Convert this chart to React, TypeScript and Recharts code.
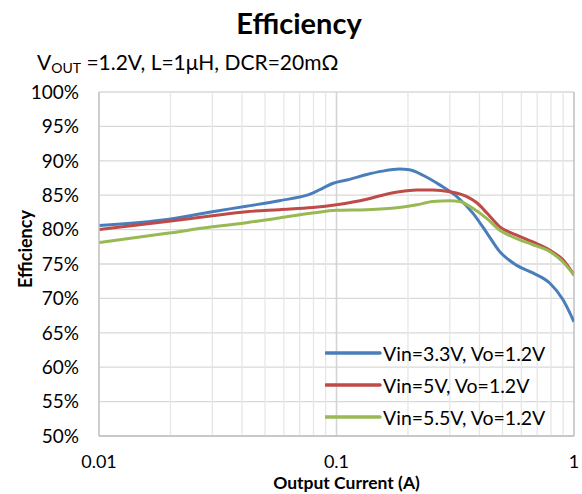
import React from "react";
import {
  LineChart,
  Line,
  XAxis,
  YAxis,
  CartesianGrid,
  ReferenceLine,
  Legend,
  Label,
} from "recharts";

// ---- data ----
const blueCurrents = [0.01, 0.0197, 0.03, 0.0417, 0.0574, 0.0793, 0.0873, 0.0962, 0.1135, 0.134, 0.156, 0.184, 0.203, 0.231, 0.272, 0.321, 0.375, 0.43, 0.487, 0.574, 0.671, 0.792, 0.899, 1.0];
const blueEff = [80.6, 81.5, 82.6, 83.4, 84.2, 85.3, 86.0, 86.7, 87.3, 88.0, 88.5, 88.8, 88.7, 87.9, 86.5, 84.8, 82.4, 79.5, 76.8, 74.8, 73.7, 72.2, 69.8, 66.6];

const redCurrents = [0.01, 0.0197, 0.03, 0.0417, 0.0574, 0.0793, 0.1, 0.134, 0.156, 0.184, 0.218, 0.254, 0.3, 0.354, 0.39, 0.43, 0.487, 0.574, 0.671, 0.792, 0.899, 1.0];
const redEff = [80.0, 81.2, 82.0, 82.6, 82.9, 83.2, 83.6, 84.4, 85.0, 85.5, 85.75, 85.75, 85.5, 84.8, 83.9, 82.4, 80.4, 79.2, 78.2, 77.0, 75.6, 73.4];

const greenCurrents = [0.01, 0.0197, 0.03, 0.0417, 0.0574, 0.0793, 0.1, 0.134, 0.184, 0.218, 0.254, 0.3, 0.33, 0.375, 0.43, 0.487, 0.574, 0.671, 0.792, 0.899, 1.0];
const greenEff = [78.1, 79.5, 80.4, 81.0, 81.7, 82.4, 82.8, 82.9, 83.2, 83.6, 84.1, 84.2, 84.1, 83.1, 81.6, 79.9, 78.7, 77.8, 76.8, 75.3, 73.4];

const seriesNames = ["Vin=3.3V, Vo=1.2V", "Vin=5V, Vo=1.2V", "Vin=5.5V, Vo=1.2V"];
const seriesColors = ["#4a7ebb", "#be4b48", "#98b954"];

const xTicks = [0.01, 0.1, 1];
const xMinorGrid = [0.02, 0.03, 0.04, 0.05, 0.06, 0.07, 0.08, 0.09, 0.2, 0.3, 0.4, 0.5, 0.6, 0.7, 0.8, 0.9];
const yTicks = [50, 55, 60, 65, 70, 75, 80, 85, 90, 95, 100];

const titleText = "Efficiency";
const xLabel = "Output Current (A)";
const yLabel = "Efficiency";

const zip = (xs: number[], ys: number[]) => xs.map((x, i) => ({ x, y: ys[i] }));
const blueData = zip(blueCurrents, blueEff);
const redData = zip(redCurrents, redEff);
const greenData = zip(greenCurrents, greenEff);

const FONT = "Lato, 'Open Sans', sans-serif";

const LegendContent = (props: any) => {
  const payload = [...(props.payload || [])].sort(
    (a: any, b: any) => seriesNames.indexOf(a.value) - seriesNames.indexOf(b.value)
  );
  return (
    <div style={{ fontFamily: FONT, fontSize: 19.5, color: "#000" }}>
      {payload.map((p: any, i: number) => (
        <div key={i} style={{ display: "flex", alignItems: "center", height: 32 }}>
          <svg width={57} height={10} style={{ display: "block" }}>
            <line x1={1} y1={5} x2={55} y2={5} stroke={p.color} strokeWidth={3.5} strokeLinecap="round" />
          </svg>
          <span style={{ marginLeft: 1, whiteSpace: "nowrap" }}>{p.value}</span>
        </div>
      ))}
    </div>
  );
};

const YLabelContent = (props: any) => {
  const vb = props.viewBox || {};
  const cy = vb.y + vb.height / 2 - 15;
  return (
    <text
      x={25}
      y={cy}
      transform={`rotate(-90, 25, ${cy})`}
      textAnchor="middle"
      dominantBaseline="central"
      fontFamily={FONT}
      fontWeight={700}
      fontSize={18}
      fill="#000"
    >
      {yLabel}
    </text>
  );
};

const XLabelContent = (props: any) => {
  const vb = props.viewBox || {};
  const cx = vb.x + vb.width / 2 + 10;
  return (
    <text
      x={cx}
      y={vb.y + 53}
      textAnchor="middle"
      fontFamily={FONT}
      fontWeight={700}
      fontSize={17.5}
      fill="#000"
    >
      {xLabel}
    </text>
  );
};

export default function App() {
  return (
    <div style={{ position: "absolute", left: 0, top: 0, width: 582, height: 494, background: "#fff" }}>
      <div
        style={{
          position: "absolute",
          left: 0,
          top: 5,
          width: 598,
          textAlign: "center",
          fontFamily: FONT,
          fontWeight: 700,
          fontSize: 29,
          lineHeight: "36px",
          color: "#000",
          zIndex: 2,
        }}
      >
        {titleText}
      </div>
      <div
        style={{
          position: "absolute",
          left: 37,
          top: 49,
          fontFamily: FONT,
          fontSize: 21,
          lineHeight: "26px",
          color: "#000",
          whiteSpace: "nowrap",
          zIndex: 2,
        }}
      >
        V<sub style={{ fontSize: 14, verticalAlign: "-3px" }}>OUT</sub> =1.2V, L=1μH, DCR=20mΩ
      </div>
      <LineChart
        width={582}
        height={494}
        margin={{ top: 92, right: 8, bottom: 0, left: 0 }}
        style={{ position: "absolute", left: 0, top: 0 }}
      >
        <CartesianGrid vertical={false} stroke="#d9d9d9" strokeWidth={1.3} />
        {xMinorGrid.map((v) => (
          <ReferenceLine key={v} x={v} stroke="#e6e6e6" strokeWidth={1.3} />
        ))}
        <ReferenceLine x={0.1} stroke="#d4d4d4" strokeWidth={1.6} />
        <ReferenceLine x={1} stroke="#bfbfbf" strokeWidth={1.5} />
        <XAxis
          dataKey="x"
          type="number"
          scale="log"
          domain={[0.01, 1]}
          ticks={xTicks}
          allowDataOverflow
          tickFormatter={(v: number) => String(v)}
          tickLine={false}
          tickSize={0}
          tickMargin={19}
          axisLine={{ stroke: "#bfbfbf", strokeWidth: 1.5 }}
          tick={{ fontFamily: FONT, fontSize: 18, fill: "#000" }}
          height={58}
        >
          <Label content={<XLabelContent />} />
        </XAxis>
        <YAxis
          type="number"
          domain={[50, 100]}
          ticks={yTicks}
          tickFormatter={(v: number) => `${v}%`}
          tickLine={false}
          tickSize={0}
          tickMargin={20}
          axisLine={{ stroke: "#bfbfbf", strokeWidth: 1.5 }}
          tick={{ fontFamily: FONT, fontSize: 19, fill: "#000" }}
          width={99}
        >
          <Label content={<YLabelContent />} />
        </YAxis>
        <Line
          data={blueData}
          dataKey="y"
          name={seriesNames[0]}
          type="monotone"
          stroke={seriesColors[0]}
          strokeWidth={3}
          dot={false}
          isAnimationActive={false}
        />
        <Line
          data={redData}
          dataKey="y"
          name={seriesNames[1]}
          type="monotone"
          stroke={seriesColors[1]}
          strokeWidth={3}
          dot={false}
          isAnimationActive={false}
        />
        <Line
          data={greenData}
          dataKey="y"
          name={seriesNames[2]}
          type="monotone"
          stroke={seriesColors[2]}
          strokeWidth={3}
          dot={false}
          isAnimationActive={false}
        />
        <Legend
          layout="vertical"
          align="center"
          verticalAlign="middle"
          content={<LegendContent />}
          wrapperStyle={{ left: 325, top: 337, width: 255, height: 96 }}
        />
      </LineChart>
    </div>
  );
}
